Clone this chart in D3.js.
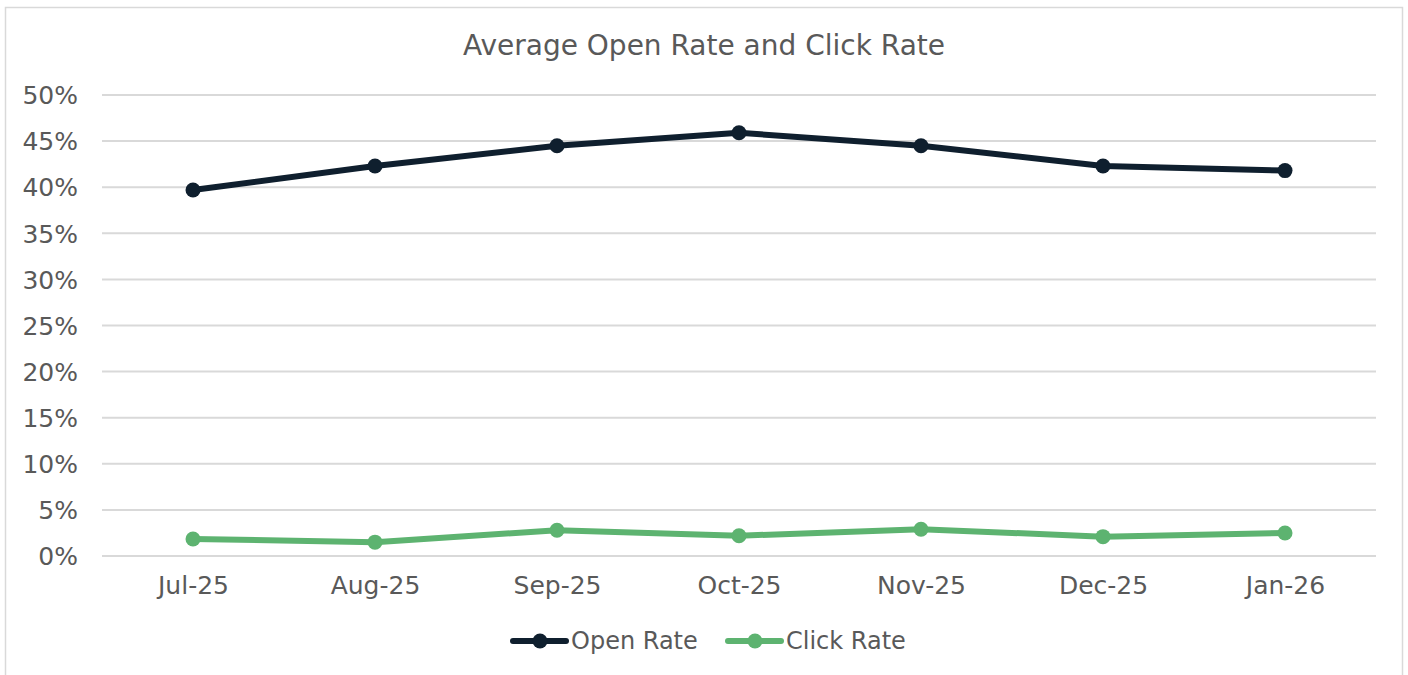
<!DOCTYPE html>
<html>
<head>
<meta charset="utf-8">
<script src="https://cdn.jsdelivr.net/npm/d3@7"></script>
<style>
  body { margin: 0; background: #fff; }
  svg text { font-family: "DejaVu Sans", Verdana, sans-serif; fill: #595959; }
</style>
</head>
<body>
<div id="chart"></div>
<script>
// chart data
var months = ["Jul-25", "Aug-25", "Sep-25", "Oct-25", "Nov-25", "Dec-25", "Jan-26"];
var openRate = [0.397, 0.423, 0.445, 0.459, 0.445, 0.423, 0.418];
var clickRate = [0.0185, 0.015, 0.028, 0.022, 0.029, 0.021, 0.025];
var yTicks = [0, 0.05, 0.1, 0.15, 0.2, 0.25, 0.3, 0.35, 0.4, 0.45, 0.5];

var open_color = "#0F1F2E"
var click_color = "#5DB370"

var width = 1408, height = 675;
var plotLeft = 102, plotRight = 1376, plotTop = 95, plotBottom = 556;

var svg = d3.select("#chart").append("svg")
  .attr("width", width)
  .attr("height", height)

// outer frame
svg.append("rect")
  .attr("x", 5.5).attr("y", 7.5)
  .attr("width", 1397).attr("height", 700)
  .attr("fill", "none")
  .attr("stroke", "#d9d9d9")
  .attr("stroke-width", 1.5)

svg.append("text")
  .attr("x", 704).attr("y", 55)
  .attr("text-anchor", "middle")
  .style("font-size", "28px")
  .text("Average Open Rate and Click Rate")

var x = d3.scalePoint().domain(months).range([plotLeft, plotRight]).padding(0.5)
var y = d3.scaleLinear().domain([0, 0.5]).range([plotBottom, plotTop])

// gridlines
svg.append("g").selectAll("line")
  .data(yTicks)
  .enter().append("line")
    .attr("x1", plotLeft).attr("x2", plotRight)
    .attr("y1", function(d){ return y(d) })
    .attr("y2", function(d){ return y(d) })
    .attr("stroke", "#d9d9d9")
    .attr("stroke-width", 2)

var yAxis = svg.append("g")
  .attr("transform", "translate(" + (plotLeft - 24) + ",0)")
  .call(d3.axisLeft(y).tickValues(yTicks).tickFormat(d3.format(".0%")).tickSize(0).tickPadding(0))
yAxis.select(".domain").remove()
yAxis.selectAll("text").style("font-size", "25px").attr("dy", "0.35em")

var xAxis = svg.append("g")
  .attr("transform", "translate(0," + plotBottom + ")")
  .call(d3.axisBottom(x).tickSize(0).tickPadding(20))
xAxis.select(".domain").remove()
xAxis.selectAll("text").style("font-size", "25px").attr("dy", "0.71em")

function series(vals, color) {
  var pts = months.map(function(m, i){ return [x(m), y(vals[i])] })
  svg.append("path")
    .attr("d", d3.line()(pts))
    .attr("fill", "none")
    .attr("stroke", color)
    .attr("stroke-width", 6)
    .attr("stroke-linejoin", "round")
    .attr("stroke-linecap", "round")
  svg.append("g").selectAll("circle")
    .data(pts)
    .enter().append("circle")
      .attr("cx", function(d){ return d[0] })
      .attr("cy", function(d){ return d[1] })
      .attr("r", 7.5)
      .attr("fill", color)
}

series(openRate, open_color)
series(clickRate, click_color)

// legend
var legend = [
  { name: "Open Rate", color: open_color, x: 513 },
  { name: "Click Rate", color: click_color, x: 728 }
]
legend.forEach(function(l){
  var g = svg.append("g").attr("transform", "translate(" + l.x + ",641)")
  g.append("line").attr("x1", 0).attr("x2", 53)
    .attr("stroke", l.color).attr("stroke-width", 6).attr("stroke-linecap", "round")
  g.append("circle").attr("cx", 27).attr("r", 7.5).attr("fill", l.color)
  g.append("text").attr("x", 58).attr("dy", "0.35em")
    .style("font-size", "24px").text(l.name)
})
</script>
</body>
</html>
